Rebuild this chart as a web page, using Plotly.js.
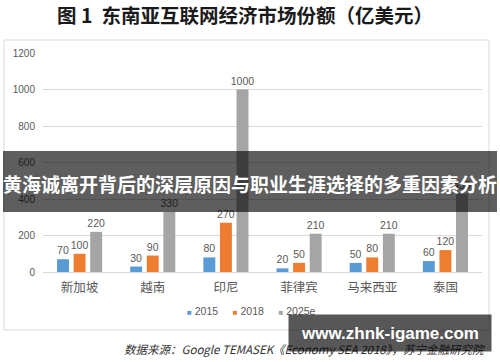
<!DOCTYPE html>
<html>
<head>
<meta charset="utf-8">
<script src="https://cdn.plot.ly/plotly-3.0.1.min.js"></script>
<style>html,body{margin:0;padding:0;background:#fff;}#chart{width:500px;height:362px;}</style>
</head>
<body>
<div id="chart"></div>
<script>
const categories = ['新加坡', '越南', '印尼', '菲律宾', '马来西亚', '泰国'];
const v2015 = [70, 30, 80, 20, 50, 60];
const v2018 = [100, 90, 270, 50, 80, 120];
const v2025e = [220, 330, 1000, 210, 210, 430];
const seriesNames = ['2015', '2018', '2025e'];
const seriesColors = ['#5B9BD5', '#ED7D31', '#A5A5A5'];
const yTicks = [0, 200, 400, 600, 800, 1000, 1200];
const chartTitle = '图 1  东南亚互联网经济市场份额（亿美元）';
const bannerText = '黄海诚离开背后的深层原因与职业生涯选择的多重因素分析';
const sourceText = '数据来源：Google TEMASEK《Economy SEA 2018》，苏宁金融研究院';
const watermarkText = 'www.zhnk-igame.com';

const FONT = 'Liberation Sans, Noto Sans CJK SC, sans-serif';
const CJK = 'Noto Sans CJK SC, sans-serif';
const values = [v2015, v2018, v2025e];

const traces = values.map((vals, i) => ({
  type: 'bar',
  name: seriesNames[i],
  x: categories,
  y: vals,
  marker: {color: seriesColors[i]},
  text: vals.map(String),
  textposition: 'outside',
  constraintext: 'none',
  cliponaxis: false,
  textfont: {family: FONT, size: 10.5, color: '#595959'},
  hoverinfo: 'none'
}));

// plot area in px: x 43..482, y 53..272
const px = v => (v - 43) / 439;
const py = v => (272 - v) / 219;

const legendHtml = seriesNames.map((n, i) =>
  `<span style="color:${seriesColors[i]};font-size:8px">■</span> ${n}`).join('     ');

const layout = {
  width: 500, height: 362,
  margin: {l: 43, r: 18, t: 53, b: 90, pad: 0},
  paper_bgcolor: '#ffffff',
  plot_bgcolor: '#ffffff',
  showlegend: false,
  bargap: 0.32,
  bargroupgap: 0.28,
  barmode: 'group',
  title: {
    text: '<b>' + chartTitle + '</b>',
    font: {family: CJK, size: 19.5, color: '#1a1a1a'},
    x: 0.49, xanchor: 'center', xref: 'container',
    y: 1 - 16 / 362, yanchor: 'middle', yref: 'container'
  },
  xaxis: {
    type: 'category',
    showgrid: false,
    showline: false,
    ticks: '',
    ticklabelstandoff: 6,
    tickfont: {family: CJK, size: 12.5, color: '#595959'},
    fixedrange: true
  },
  yaxis: {
    range: [0, 1200],
    tickvals: yTicks,
    ticktext: yTicks.map(String),
    showgrid: true,
    gridcolor: '#d9d9d9',
    gridwidth: 1,
    zeroline: true,
    zerolinecolor: '#d9d9d9',
    zerolinewidth: 1,
    showline: false,
    ticks: '',
    ticklabelstandoff: 7,
    tickfont: {family: FONT, size: 10, color: '#595959'},
    fixedrange: true
  },
  shapes: [
    {type: 'rect', xref: 'paper', yref: 'paper', layer: 'below',
     x0: px(4), x1: px(489), y0: py(330), y1: py(40),
     line: {color: '#d9d9d9', width: 1}, fillcolor: 'rgba(0,0,0,0)'},
    {type: 'rect', xref: 'paper', yref: 'paper', layer: 'above',
     x0: px(3), x1: px(497), y0: py(212), y1: py(151),
     line: {width: 0}, fillcolor: 'rgba(0,0,0,0.63)'}
  ],
  annotations: [
    {xref: 'paper', yref: 'paper', x: px(251), y: py(311), xanchor: 'center', yanchor: 'middle',
     showarrow: false, text: legendHtml,
     font: {family: FONT, size: 10.5, color: '#595959'}},
    {xref: 'paper', yref: 'paper', x: px(487), y: py(349), xanchor: 'right', yanchor: 'middle',
     showarrow: false, text: '<i>' + sourceText + '</i>',
     font: {family: CJK, size: 11.5, color: '#333333'}},
    {xref: 'paper', yref: 'paper', x: px(250), y: py(183), xanchor: 'center', yanchor: 'middle',
     showarrow: false, text: '<b>' + bannerText + '</b>',
     font: {family: CJK, size: 19, color: '#ffffff'}},
    {xref: 'paper', yref: 'paper', x: px(390), y: py(333), xanchor: 'center', yanchor: 'middle',
     showarrow: false, text: '<b>' + watermarkText + '</b>',
     width: 202, height: 36, borderpad: 0,
     bgcolor: 'rgba(0,0,0,0.66)',
     font: {family: FONT, size: 17, color: '#ffffff'}}
  ]
};

Plotly.newPlot('chart', traces, layout, {displayModeBar: false, staticPlot: true});
</script>
</body>
</html>
